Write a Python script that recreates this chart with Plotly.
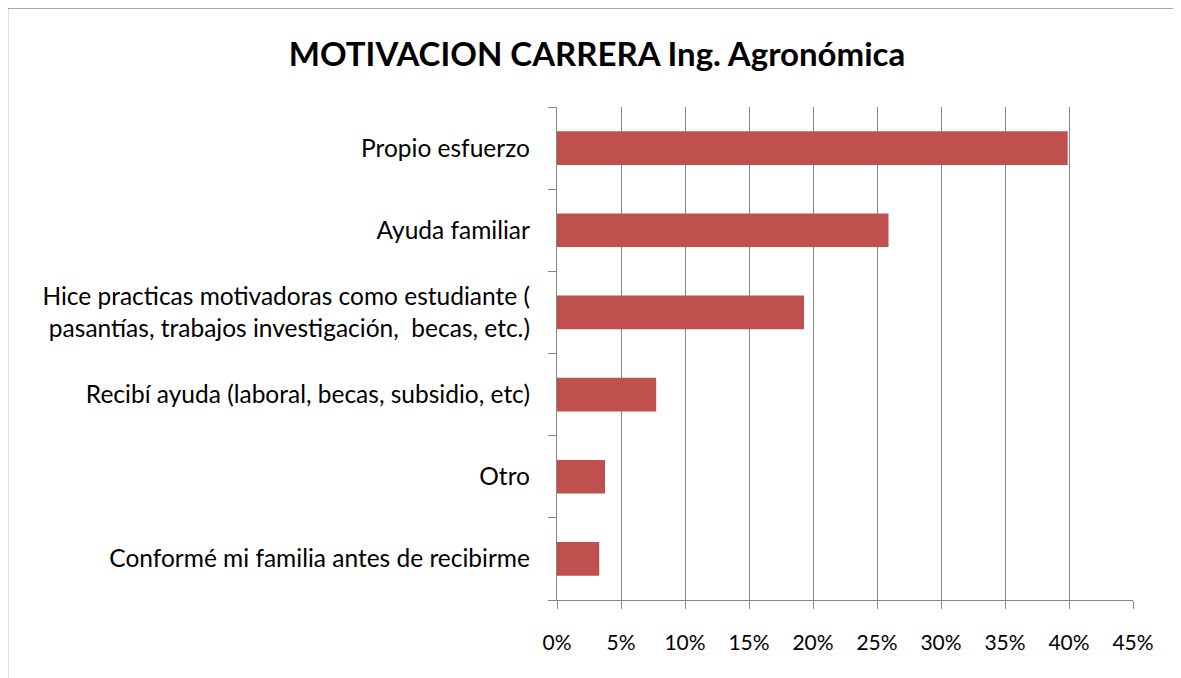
import plotly.graph_objects as go

categories = [
    "Conformé mi familia antes de recibirme",
    "Otro",
    "Recibí ayuda (laboral, becas, subsidio, etc)",
    "Hice practicas motivadoras como estudiante (<br>pasantías, trabajos investigación,  becas, etc.)",
    "Ayuda familiar",
    "Propio esfuerzo",
]
values = [0.033, 0.0375, 0.0775, 0.193, 0.259, 0.399]
tick_vals = [0, 0.05, 0.10, 0.15, 0.20, 0.25, 0.30, 0.35, 0.40, 0.45]
tick_text = ["0%", "5%", "10%", "15%", "20%", "25%", "30%", "35%", "40%", "45%"]
title_text = "MOTIVACION CARRERA Ing. Agronómica"

OFF = 8  # page body margin
W, H = 1181 - OFF, 678 - OFF
L, R, T, B = 557 - OFF, 1181 - 1133, 107 - OFF, 678 - 600
pw, ph = W - L - R, H - T - B

def px(x):
    return (x - OFF - L) / pw

def py(y):
    return (H - B - (y - OFF)) / ph

FONT = "Lato"

fig = go.Figure(go.Bar(
    x=values, y=categories, orientation="h",
    marker=dict(color="#C0504D", line=dict(width=0)),
    width=0.41,
))

fig.update_layout(
    width=W, height=H,
    margin=dict(l=L, r=R, t=T, b=B, autoexpand=False),
    paper_bgcolor="white", plot_bgcolor="white",
    showlegend=False,
    font=dict(family=FONT, color="#000000", size=20),
    title=dict(text="<b>" + title_text + "</b>", x=(597 - OFF) / W, xanchor="center",
               y=1 - (54 - OFF) / H, yanchor="middle",
               font=dict(family=FONT, size=33, color="#000000")),
    xaxis=dict(range=[0, 0.45], tickvals=tick_vals, ticktext=tick_text,
               showgrid=True, gridcolor="#868686", gridwidth=1.3,
               showline=True, linecolor="#868686", linewidth=1.3,
               ticks="outside", ticklen=8, tickcolor="#868686", tickwidth=1.3,
               tickfont=dict(family=FONT, size=21), ticklabelstandoff=16,
               zeroline=False, fixedrange=True),
    yaxis=dict(categoryorder="array", categoryarray=categories,
               showgrid=False, showline=True, linecolor="#868686", linewidth=1.3,
               ticks="outside", ticklen=8, tickcolor="#868686", tickwidth=1.3,
               tickson="boundaries", tickfont=dict(family=FONT, size=24.5),
               ticklabelstandoff=21, fixedrange=True),
    shapes=[
        dict(type="line", xref="paper", yref="paper",
             x0=px(7.5), x1=px(1190), y0=py(8), y1=py(8),
             line=dict(color="#8C8C8C", width=1.5)),
        dict(type="line", xref="paper", yref="paper",
             x0=px(7.5), x1=px(7.5), y0=py(8), y1=py(700),
             line=dict(color="#8C8C8C", width=1.5)),
    ],
)

fig.write_html("out.html")
